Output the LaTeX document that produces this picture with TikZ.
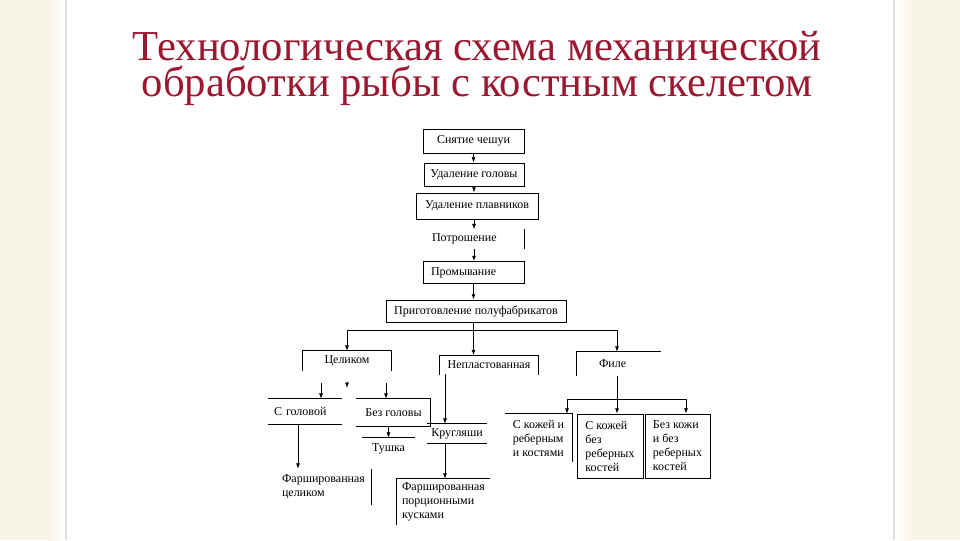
\documentclass[tikz,border=0pt]{standalone}
\usepackage{fontspec}
\setmainfont{Liberation Serif}
\newfontfamily\titlefont{Liberation Serif}
\usetikzlibrary{arrows.meta}
\definecolor{titlered}{RGB}{155,24,48}
\definecolor{cream}{RGB}{248,245,230}
\newcommand{\dfont}{\fontsize{9pt}{10.5pt}\selectfont}
\begin{document}
\begin{tikzpicture}[x=0.75pt,y=-0.75pt,
  bx/.style 2 args={minimum width=#1*0.75pt, minimum height=#2*0.75pt, inner sep=0pt, font=\dfont},
  full/.style={draw, line width=0.6pt},
  tw/.style={text width=#1*0.75pt, align=left},
  ml/.style={align=left},
  ln/.style={line width=0.6pt},
  arr/.style={line width=0.6pt, -{Latex[length=4pt,width=3pt]}},
  ttl/.style={font=\titlefont\fontsize{32pt}{27pt}\selectfont, text=titlered, anchor=base, inner sep=0pt, align=center}]
\useasboundingbox (0,0) rectangle (960,540);
% background
\fill[cream] (0,0) rectangle (960,540);
\shade[left color=cream, right color=white] (48,0) rectangle (66,540);
\shade[left color=white, right color=cream] (894,0) rectangle (912,540);
\fill[white] (66,0) rectangle (894,540);
\draw[black!12, line width=1.2pt] (66,0) -- (66,540);
\draw[black!12, line width=1.2pt] (894,0) -- (894,540);
% title
\node[ttl] (title) at (477,96) {Технологическая схема механической\\обработки рыбы с костным скелетом};
% nodes
\node[bx={101}{24}, full] (snyat) at (473.5,141) {Снятие чешуи};
\node[bx={100}{23}, full] (golova) at (474,174.5) {Удаление головы};
\node[bx={122}{26}, full] (plavn) at (477,206) {Удаление плавников};
\node[bx={100}{19}, tw=84] (potr) at (474,239) {Потрошение};
\node[bx={101}{22}, full, tw=85] (promyv) at (473.5,272.5) {Промывание};
\node[bx={180}{22}, full] (prigot) at (476,311) {Приготовление полуфабрикатов};
\node[bx={88}{20}] (celik) at (347,361) {Целиком};
\node[bx={98}{19}] (nepl) at (489,365) {Непластованная};
\node[bx={84}{24}, tw=40] (file) at (619,364) {Филе};
\node[bx={74}{25}, tw=62] (sgol) at (305,411.5) {\mbox{С головой}};
\node[bx={74}{27}] (bezgol) at (393.5,412.5) {Без головы};
\node[bx={53}{22}] (tushka) at (388.5,449) {Тушка};
\node[bx={60}{19}] (krug) at (457,433.5) {Кругляши};
\node[bx={95}{36}, ml] (farshc) at (323.5,487) {Фаршированная\\целиком};
\node[bx={93}{46}, ml] (farshp) at (443.5,502) {Фаршированная\\порционными\\кусками};
\node[bx={67}{48}, ml] (b1) at (538.5,438) {С кожей и\\реберным\\и костями};
\node[bx={66}{64}, full, ml] (b2) at (610,446) {С кожей\\без\\реберных\\костей};
\node[bx={65}{64}, full, ml] (b3) at (677.5,446) {Без кожи\\и без\\реберных\\костей};
% partial borders
\draw[ln] (potr.north east) -- (potr.south east);
\draw[ln] (celik.south west) -- (celik.north west) -- (celik.north east) -- (celik.south east);
\draw[ln] (nepl.south west) -- (nepl.north west) -- (nepl.north east) -- (nepl.south east);
\draw[ln] (file.south west) -- (file.north west) -- (file.north east);
\draw[ln] (sgol.north west) -- (sgol.north east);
\draw[ln] (sgol.south west) -- (sgol.south east);
\draw[ln] (bezgol.north west) -- (bezgol.north east) -- (bezgol.south east) -- (bezgol.south west);
\draw[ln] (tushka.north west) -- (tushka.north east);
\draw[ln] (krug.north west) -- (krug.north east);
\draw[ln] (krug.south west) -- (krug.south east);
\draw[ln] (farshc.north east) -- (farshc.south east);
\draw[ln] (farshp.south west) -- (farshp.north west) -- (farshp.north east);
\draw[ln] (b1.north west) -- (b1.north east) -- (b1.south east);
% connectors
\draw[arr] (snyat.south) -- (snyat.south |- golova.north);
\draw[arr] (golova.south) -- (golova.south |- plavn.north);
\draw[arr] (golova.south |- plavn.south) -- (golova.south |- potr.north);
\draw[arr] (potr.south) -- (potr.south |- promyv.north);
\draw[arr] (promyv.south) -- (promyv.south |- prigot.north);
\draw[arr] (promyv.south |- prigot.south) -- (promyv.south |- nepl.north);
\coordinate (jl) at (347,330);
\coordinate (jr) at (617,330);
\draw[ln] (jl) -- (jr);
\draw[arr] (jl) -- (celik.north);
\draw[arr] (jr) -- (jr |- file.north);
\coordinate (c0) at (347,382);
\coordinate (c0e) at (347,388);
\draw[arr] (c0) -- (c0e);
\coordinate (c1) at (321,383);
\coordinate (c2) at (386,383);
\draw[arr] (c1) -- (c1 |- sgol.north);
\draw[arr] (c2) -- (c2 |- bezgol.north);
\coordinate (sgx) at (298,424);
\draw[arr] (sgx) -- (sgx |- farshc.north);
\draw[arr] (bezgol.south -| tushka.north) -- (tushka.north);
\coordinate (nx) at (445,374);
\draw[arr] (nx) -- (nx |- krug.north);
\draw[arr] (nx |- krug.south) -- (nx |- farshp.north);
\coordinate (fj) at (617,399);
\coordinate (fl) at (567,399);
\coordinate (fr) at (686,399);
\draw[ln] (jr |- file.south) -- (fj);
\draw[ln] (fl) -- (fr);
\draw[arr] (fl) -- (fl |- b1.north);
\draw[arr] (fj) -- (fj |- b2.north);
\draw[arr] (fr) -- (fr |- b3.north);
\end{tikzpicture}
\end{document}
